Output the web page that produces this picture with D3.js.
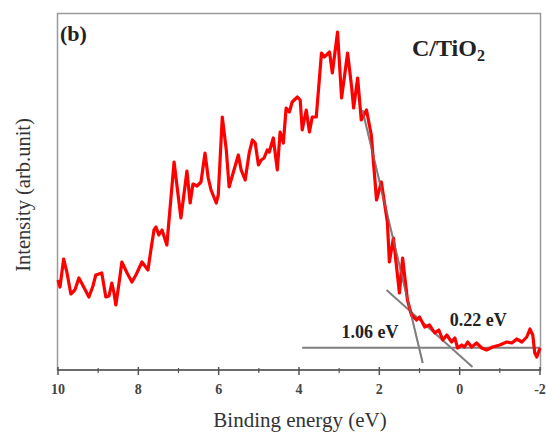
<!DOCTYPE html>
<html><head><meta charset="utf-8">
<script src="https://cdn.jsdelivr.net/npm/d3@7"></script>
<style>body{margin:0;background:#fff}svg{display:block}</style>
</head><body>
<svg id="c" width="546" height="435"></svg>
<script>
// Binding energy (eV) and intensity (arb. unit)
const energy = [10.00,9.95,9.86,9.78,9.68,9.58,9.48,9.36,9.23,9.13,9.06,8.91,8.81,8.73,8.66,8.61,8.56,8.48,8.41,8.28,8.16,8.06,7.91,7.76,7.68,7.61,7.56,7.49,7.41,7.29,7.11,6.94,6.79,6.71,6.64,6.54,6.44,6.34,6.26,6.19,6.06,6.01,5.91,5.81,5.74,5.64,5.51,5.44,5.34,5.24,5.16,5.09,5.01,4.94,4.87,4.79,4.74,4.64,4.54,4.47,4.39,4.32,4.24,4.17,4.04,3.97,3.92,3.82,3.74,3.67,3.57,3.44,3.37,3.24,3.17,3.04,2.94,2.79,2.69,2.64,2.54,2.45,2.32,2.20,2.07,1.95,1.80,1.75,1.65,1.50,1.42,1.30,1.20,1.07,1.00,0.87,0.75,0.62,0.52,0.42,0.32,0.20,0.12,0.05,-0.05,-0.12,-0.20,-0.30,-0.42,-0.55,-0.67,-0.82,-1.00,-1.17,-1.30,-1.42,-1.55,-1.67,-1.75,-1.82,-1.87,-1.92,-2.00];
const intensity = [90,83,111,98,76,80,92,83,73,84,95,97,73,74,87,78,65,87,108,97,88,95,108,100,122,140,143,135,140,125,208,152,199,167,186,184,188,217,192,180,167,175,253,220,183,197,215,200,190,217,230,227,205,210,212,220,218,232,200,238,227,262,258,268,273,270,240,260,238,253,253,317,313,318,297,338,272,317,283,262,292,250,260,235,170,188,148,108,132,77,112,70,55,50,53,43,45,37,40,30,35,28,32,22,25,23,28,23,27,22,20,23,25,28,27,31,28,33,41,35,17,13,22];

// Linear fits (endpoints in eV / intensity)
const baseline = [[3.92,22.3],[-2.00,22.3]];
const fitEdge1 = [[2.42,260],[0.92,7]];     // 1.06 eV
const fitEdge2 = [[1.82,80],[-0.32,3]];     // 0.22 eV

const majorTicks = [10,8,6,4,2,0,-2];
const minorTicks = [9,7,5,3,1,-1];
const labels = [{t:"1.06 eV", x:2.23, y:32}, {t:"0.22 eV", x:-0.46, y:44}];

const svg = d3.select("#c");
const x = d3.scaleLinear().domain([10,-2]).range([58,540]);
const y = d3.scaleLinear().domain([0,357]).range([370,13]);
const serif = "'Liberation Serif','Times New Roman',serif";

// frame
svg.append("rect").attr("x",57.5).attr("y",13.5).attr("width",483).attr("height",356.5)
  .attr("fill","none").attr("stroke","#9a9a9a").attr("stroke-width",1.5);

// bottom axis
const gx = svg.append("g").attr("transform","translate(0,370)");
gx.append("line").attr("x1",57).attr("x2",541).attr("stroke","#555").attr("stroke-width",1.5);
gx.selectAll(".maj").data(majorTicks).join("line")
  .attr("x1",d=>x(d)).attr("x2",d=>x(d)).attr("y1",-3).attr("y2",5)
  .attr("stroke","#555").attr("stroke-width",1.5);
gx.selectAll(".min").data(minorTicks).join("line")
  .attr("x1",d=>x(d)).attr("x2",d=>x(d)).attr("y1",-2).attr("y2",3)
  .attr("stroke","#555").attr("stroke-width",1.2);
gx.selectAll("text").data(majorTicks).join("text")
  .attr("x",d=>x(d)).attr("y",24).attr("text-anchor","middle")
  .attr("font-family",serif).attr("font-size",14).attr("font-weight","bold").attr("fill","#444")
  .text(d=>d);

// axis titles
svg.append("text").attr("x",300).attr("y",427).attr("text-anchor","middle")
  .attr("font-family",serif).attr("font-size",21).attr("fill","#333").text("Binding energy (eV)");
svg.append("text").attr("transform","translate(30,195) rotate(-90)").attr("text-anchor","middle")
  .attr("font-family",serif).attr("font-size",20.5).attr("fill","#333").text("Intensity (arb.unit)");

// fit lines
const line = d3.line().x(d=>x(d[0])).y(d=>y(d[1]));
[baseline, fitEdge1, fitEdge2].forEach(seg=>{
  svg.append("path").attr("d",line(seg)).attr("fill","none").attr("stroke","#7f7f7f").attr("stroke-width",2);
});

// spectrum
const pts = energy.map((e,i)=>[e,intensity[i]]);
svg.append("path").attr("d",line(pts)).attr("fill","none").attr("stroke","#ff0000")
  .attr("stroke-width",3.2).attr("stroke-linejoin","round");

// steep fit overlays the curve in the picture
svg.append("path").attr("d",line(fitEdge1)).attr("fill","none").attr("stroke","#7f7f7f").attr("stroke-width",1.5).attr("opacity",0.6);

// labels
svg.selectAll(".lab").data(labels).join("text")
  .attr("x",d=>x(d.x)).attr("y",d=>y(d.y)).attr("text-anchor","middle")
  .attr("font-family",serif).attr("font-size",18).attr("font-weight","bold").attr("fill","#222")
  .text(d=>d.t);

svg.append("text").attr("x",60).attr("y",41).attr("font-family",serif).attr("font-size",22)
  .attr("font-weight","bold").attr("fill","#222").text("(b)");
const tt = svg.append("text").attr("x",412).attr("y",56).attr("font-family",serif).attr("font-size",24)
  .attr("font-weight","bold").attr("fill","#222");
tt.append("tspan").text("C/TiO");
tt.append("tspan").attr("font-size",16).attr("dy",5).text("2");
</script>
</body></html>
